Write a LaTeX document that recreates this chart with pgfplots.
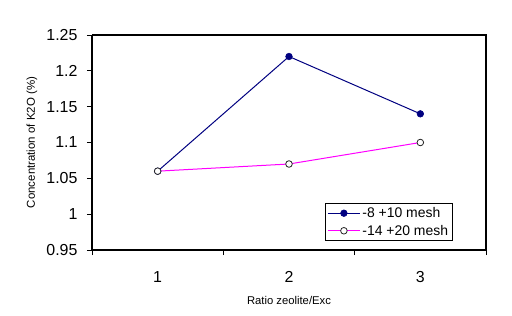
\documentclass[border=0pt]{standalone}
\usepackage{fontspec}
\setmainfont{Liberation Sans}
\usepackage{pgfplots}
\pgfplotsset{compat=1.18}
\definecolor{navyc}{RGB}{0,0,128}
\definecolor{magc}{RGB}{255,0,255}
\pgfplotsset{longlegend/.style={legend image code/.code={\draw[mark repeat=2,mark phase=2] plot coordinates {(0bp,0bp)(16bp,0bp)(32bp,0bp)};}}}
\begin{document}
\begin{tikzpicture}
\begin{axis}[
  scale only axis,
  width=394bp, height=215bp,
  at={(0,0)}, anchor=south west,
  xmin=0.5, xmax=3.5,
  ymin=0.95, ymax=1.25,
  xtick={0.5,1.5,2.5,3.5},
  xticklabels={},
  extra x ticks={1,2,3},
  extra x tick labels={1,2,3},
  extra x tick style={major tick length=0bp, xticklabel style={anchor=center, yshift=-26.7bp}},
  ytick={0.95,1,1.05,1.1,1.15,1.2,1.25},
  yticklabels={0.95,1,1.05,1.1,1.15,1.2,1.25},
  tick style={black, line width=0.8bp},
  tick align=outside,
  major tick length=5bp,
  axis x line*=bottom, axis y line*=left,
  axis line style={line width=1.5bp},
  yticklabel style={anchor=east, xshift=-6bp},
  tick label style={font=\fontsize{16}{18}\selectfont},
  /pgf/number format/assume math mode=true,
  xlabel={Ratio zeolite/Exc},
  ylabel={Concentration of K2O (\%)},
  xlabel style={at={(axis description cs:0.5,-0.2326)}, anchor=center, font=\fontsize{11.3}{13}\selectfont},
  ylabel style={at={(axis description cs:-0.1523,0.5)}, anchor=center, font=\fontsize{11.5}{13}\selectfont},
  legend style={at={(axis description cs:0.5914,0.2186)}, anchor=north west, draw=black, line width=0.8bp,
    font=\fontsize{14}{16}\selectfont, inner sep=2bp, row sep=2bp, cells={anchor=west}},
  clip=false,
]
\draw[line width=1.2bp] (rel axis cs:0,1) -- (rel axis cs:1,1) -- (rel axis cs:1,0);
\addplot[navyc, line width=1bp, mark=*, mark size=3.3bp, mark options={fill=navyc, draw=navyc, line width=0.6bp}, longlegend]
  coordinates {(1,1.06) (2,1.22) (3,1.14)};
\addlegendentry{-8 +10 mesh}
\addplot[magc, line width=1bp, mark=*, mark size=3.3bp, mark options={fill=white, draw=black!85, line width=0.8bp}, longlegend]
  coordinates {(1,1.06) (2,1.07) (3,1.10)};
\addlegendentry{-14 +20 mesh}
\end{axis}
\path (-92bp,-66bp) rectangle (420bp,250bp);
\end{tikzpicture}
\end{document}
